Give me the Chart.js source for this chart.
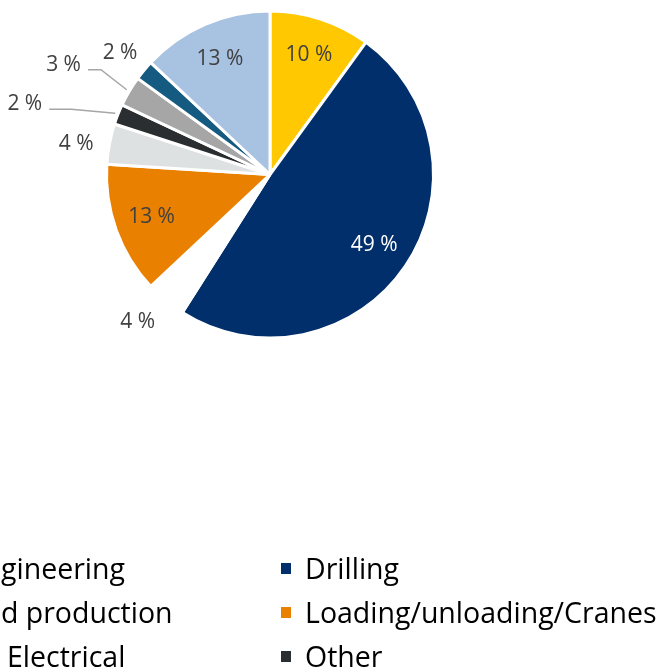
<!DOCTYPE html>
<html>
<head>
<meta charset="utf-8">
<script src="https://cdn.jsdelivr.net/npm/chart.js@4.4.1/dist/chart.umd.min.js"></script>
<style>
    html, body { margin: 0; padding: 0; background: #fff; overflow: hidden; }
    #wrap { position: absolute; left: 0; top: 0; width: 666px; height: 671px; }
</style>
</head>
<body>
<div id="wrap"><canvas id="pie"></canvas></div>
<script>
// data (percent of incidents per discipline)
const categories = [
    "Process engineering",
    "Drilling",
    "Process and production",
    "Loading/unloading/Cranes",
    "Power and Electrical",
    "Other",
    "Maintenance",
    "Transport",
    "Structural"
];
const shares = [10, 49, 4, 13, 4, 2, 3, 2, 13];
const sliceColors = [
    "#FFC800", "#002F6C", "#FFFFFF", "#EA8000", "#DEE1E2",
    "#2A2E30", "#A6A6A6", "#155A80", "#A8C2E1"
];

// where each percentage label sits: fraction of radius and angle nudge (deg)
const labelPlacement = [
    { f: 0.77, d: 0 },
    { f: 0.77, d: 0, color: "#FFFFFF" },
    { f: 1.21, d: 2.4 },
    { f: 0.77, d: 0 },
    { f: 1.20, d: -1.8 },
    { f: 1.56, d: -5.6, leader: 22 },
    { f: 1.43, d: -2.6, leader: 13 },
    { f: 1.18, d: -0.6 },
    { f: 0.77, d: 0 }
];

const LABEL_FONT = "21px 'Open Sans'";
const LEGEND_FONT = "28.5px 'Open Sans'";

const pctLabels = {
    id: "pctLabels",
    afterDatasetsDraw(chart) {
        const ctx = chart.ctx;
        const meta = chart.getDatasetMeta(0);
        ctx.save();
        ctx.font = LABEL_FONT;
        ctx.textAlign = "center";
        ctx.textBaseline = "middle";
        meta.data.forEach((arc, i) => {
            const p = arc.getProps(["x", "y", "startAngle", "endAngle", "outerRadius"], true);
            const place = labelPlacement[i];
            const mid = (p.startAngle + p.endAngle) / 2;
            const a = mid + place.d * Math.PI / 180;
            const lx = p.x + Math.cos(a) * p.outerRadius * place.f;
            const ly = p.y + Math.sin(a) * p.outerRadius * place.f;
            const text = shares[i] + " %";
            if (place.leader) {
                const half = ctx.measureText(text).width / 2;
                const sx = lx + half + 7;
                const ex = sx + place.leader;
                ctx.strokeStyle = "#A6A6A6";
                ctx.lineWidth = 1.5;
                ctx.beginPath();
                ctx.moveTo(sx, ly + 5);
                ctx.lineTo(ex, ly + 5);
                ctx.lineTo(p.x + Math.cos(mid) * (p.outerRadius + 3),
                           p.y + Math.sin(mid) * (p.outerRadius + 3));
                ctx.stroke();
            }
            ctx.fillStyle = place.color || "#404040";
            ctx.fillText(text, lx, ly);
        });
        ctx.restore();
    }
};

// two-column legend below the pie, left column runs past the left edge
const sideLegend = {
    id: "sideLegend",
    afterDraw(chart) {
        const ctx = chart.ctx;
        ctx.save();
        ctx.font = LEGEND_FONT;
        ctx.textBaseline = "middle";
        const rightText = 305;
        const leftText = 7 - ctx.measureText("Power and ").width;
        categories.forEach((name, i) => {
            const row = Math.floor(i / 2);
            const tx = i % 2 ? rightText : leftText;
            const yc = 571 + row * 44;
            ctx.fillStyle = sliceColors[i];
            ctx.fillRect(tx - 24, yc - 8, 10, 11);
            ctx.fillStyle = "#000000";
            ctx.fillText(name, tx, yc);
        });
        ctx.restore();
    }
};

new Chart(document.getElementById("pie"), {
    type: "pie",
    data: {
        labels: categories,
        datasets: [{
            data: shares,
            backgroundColor: sliceColors,
            borderColor: "#FFFFFF",
            borderWidth: 3
        }]
    },
    options: {
        responsive: true,
        maintainAspectRatio: false,
        animation: false,
        layout: { padding: { left: 105, top: 9, right: 231, bottom: 331 } },
        plugins: {
            legend: { display: false },
            tooltip: { enabled: false }
        }
    },
    plugins: [pctLabels, sideLegend]
});
</script>
</body>
</html>
